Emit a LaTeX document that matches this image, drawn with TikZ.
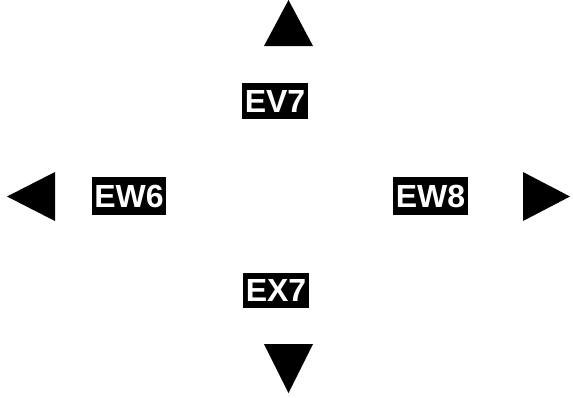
\documentclass[tikz,border=0pt]{standalone}
\usepackage{fontspec}
\setmainfont{Liberation Sans}
\begin{document}
\begin{tikzpicture}[x=1pt,y=-1pt,
  lbl/.style={fill=black,text=white,font=\fontsize{32}{32}\selectfont\bfseries,inner sep=0pt,text depth=0pt,minimum height=36pt,anchor=center},
  tri/.style={fill=black,draw=none}]
\useasboundingbox (0,0) rectangle (573,397);
\node[lbl,minimum width=66pt] (ev7) at (275,101) {EV7};
\node[lbl,minimum width=74pt,minimum height=38pt] (ew6) at (129,196) {EW6};
\node[lbl,minimum width=75pt,minimum height=38pt] (ew8) at (430.5,196) {EW8};
\node[lbl,minimum width=66pt,minimum height=35pt] (ex7) at (276,290.5) {EX7};
\fill[tri] (288.5,0) -- (313,46) -- (264,46) -- cycle;
\fill[tri] (7,196.5) -- (55,172) -- (55,221) -- cycle;
\fill[tri] (570,196.5) -- (523,172) -- (523,221) -- cycle;
\fill[tri] (288.5,393) -- (313,344) -- (264,344) -- cycle;
\end{tikzpicture}
\end{document}
